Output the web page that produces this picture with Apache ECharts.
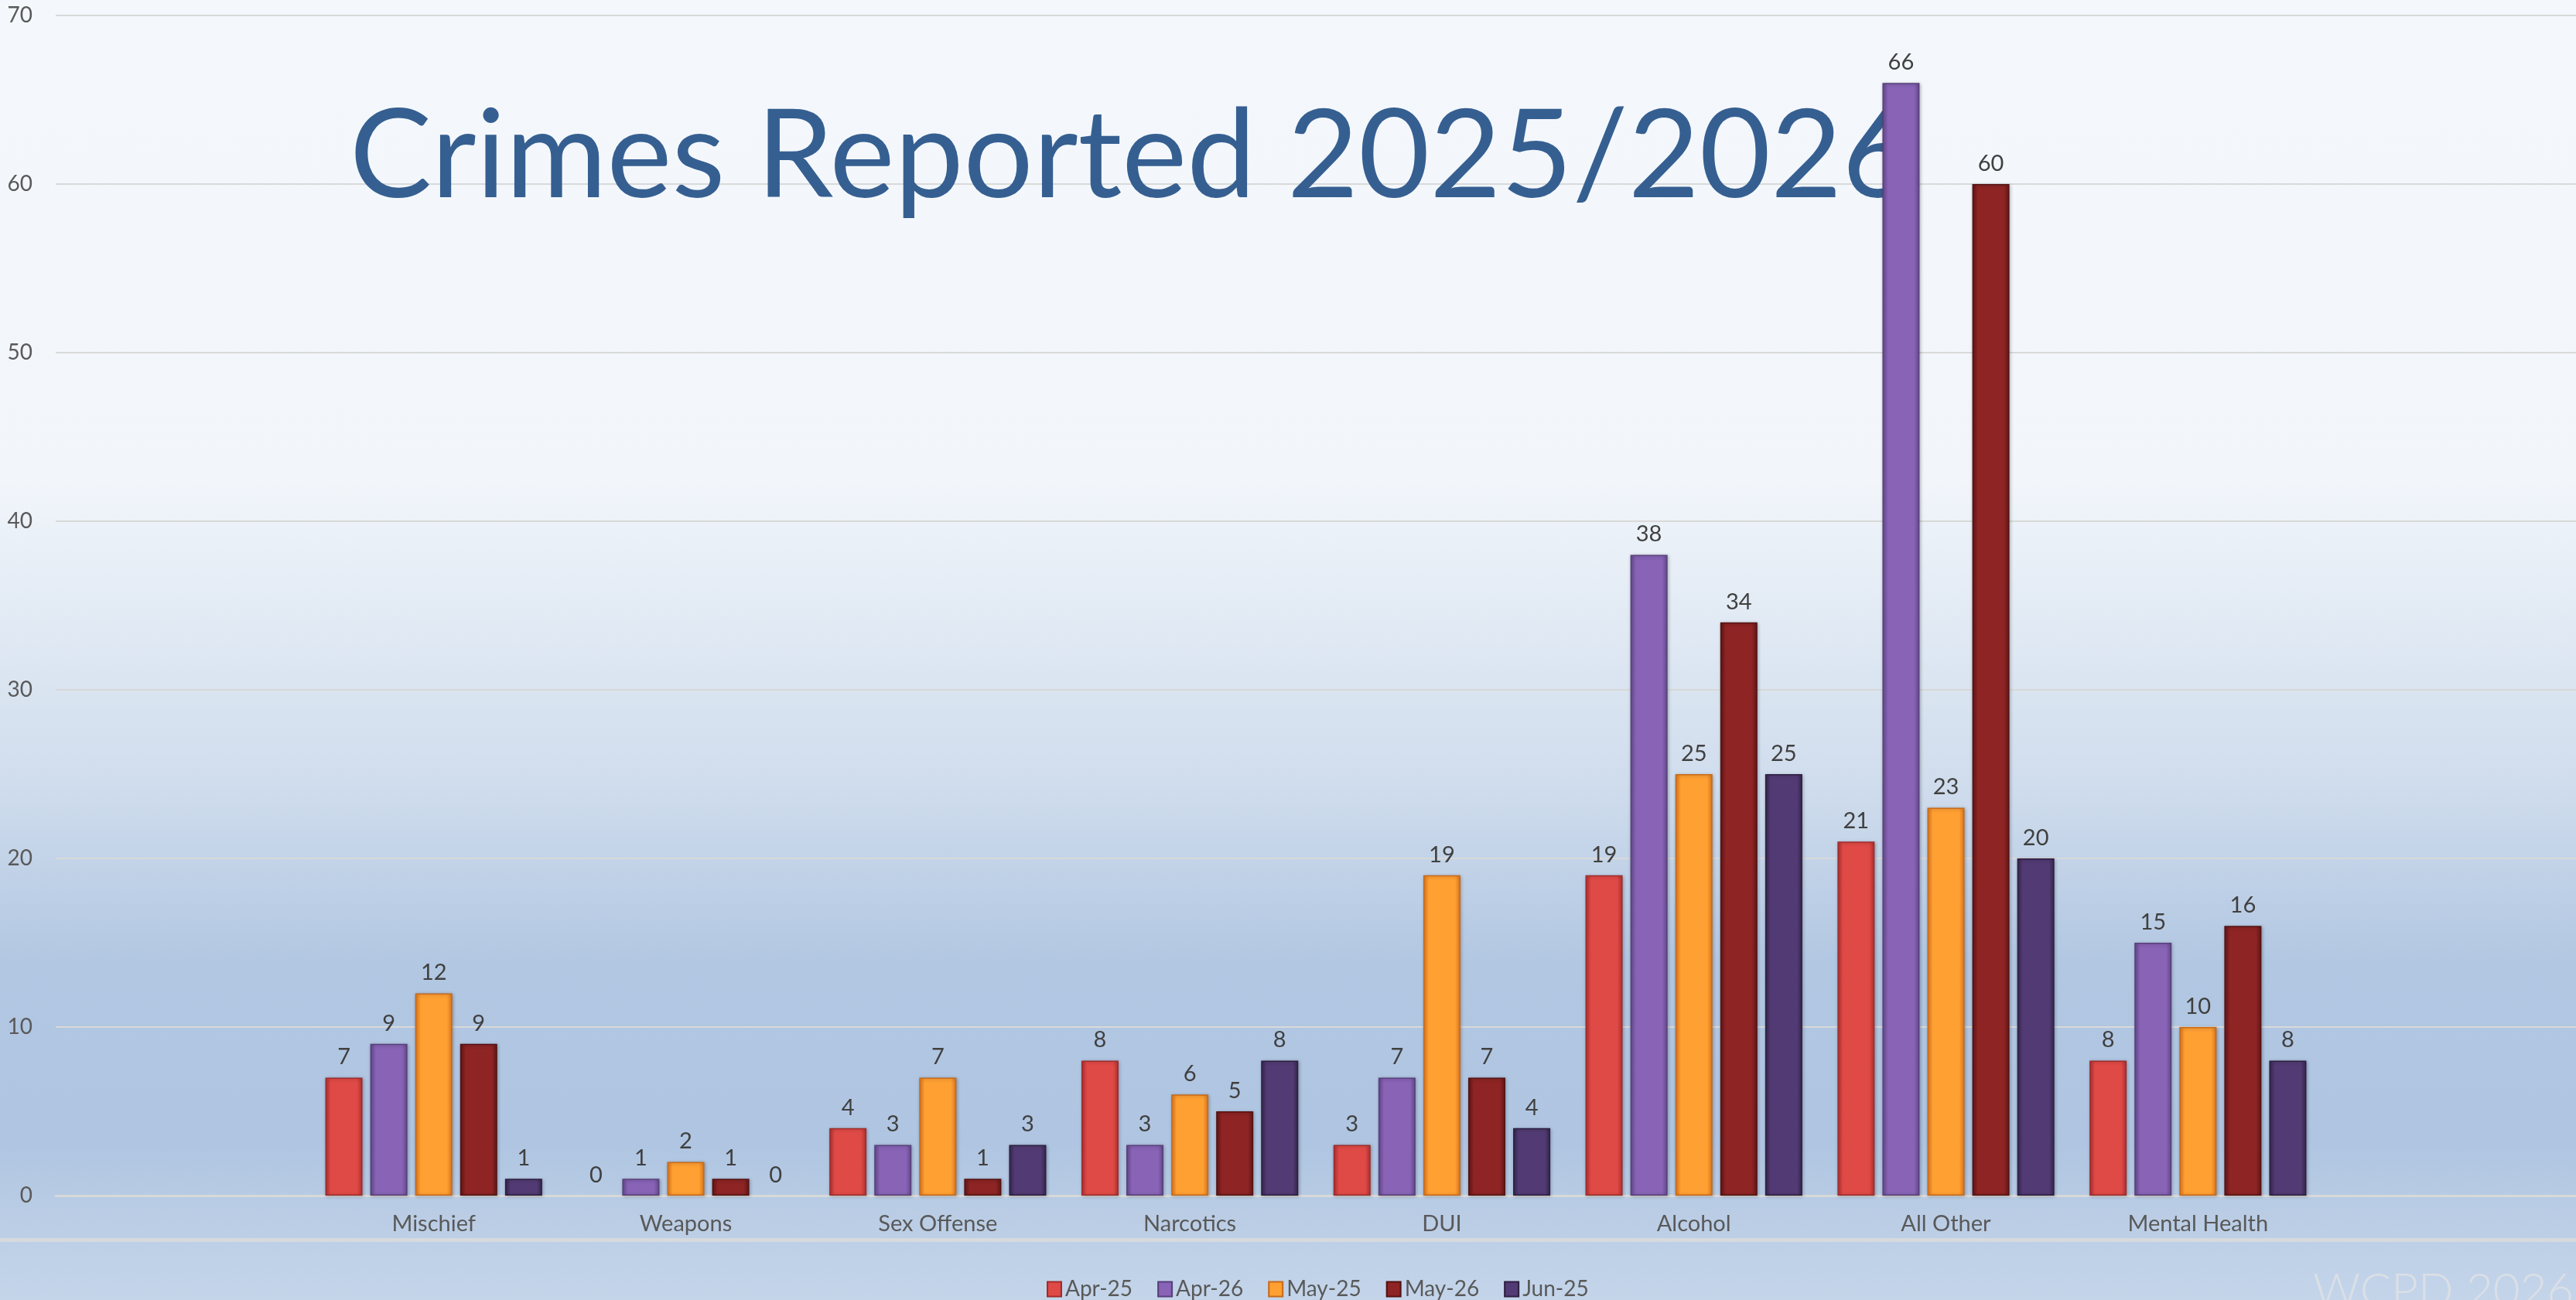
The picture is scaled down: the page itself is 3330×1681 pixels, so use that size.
<!DOCTYPE html>
<html>
<head>
<meta charset="utf-8">
<script src="https://cdn.jsdelivr.net/npm/echarts@6/dist/echarts.min.js"></script>
<style>
  html, body { margin: 0; padding: 0; }
  #chart { width: 3330px; height: 1681px; }
</style>
</head>
<body>
<div id="chart"></div>
<script>
// Crimes reported, by category and month
var categories = ['Mischief', 'Weapons', 'Sex Offense', 'Narcotics', 'DUI', 'Alcohol', 'All Other', 'Mental Health'];
var seriesNames = ['Apr-25', 'Apr-26', 'May-25', 'May-26', 'Jun-25'];
var apr25 = [7, 0, 4, 8, 3, 19, 21, 8];
var apr26 = [9, 1, 3, 3, 7, 38, 66, 15];
var may25 = [12, 2, 7, 6, 19, 25, 23, 10];
var may26 = [9, 1, 1, 5, 7, 34, 60, 16];
var jun25 = [1, 0, 3, 8, 4, 25, 20, 8];
var yTicks = [0, 10, 20, 30, 40, 50, 60, 70];

// top / edge / border colours for each series
var palette = [
	['#e04a46', '#b23131', '#9e2c2c'],
	['#8863b6', '#654a8e', '#58407c'],
	['#ffa033', '#e0781e', '#c86a1a'],
	['#8e2424', '#621616', '#541313'],
	['#523b74', '#38274f', '#2c1f40']
];

var font = 'Lato, "Open Sans", sans-serif';

function pad(arr) {
	// empty slot on each side of the category axis, like the original
	return ['-'].concat(arr, ['-']);
}

function barData(values) {
	// a zero bar has no visible outline in the original, only its label
	return pad(values).map(function(v) {
		if (v === 0) return { value: 0, itemStyle: { borderWidth: 0, shadowBlur: 0, color: 'rgba(0,0,0,0)' } };
		return v;
	});
}

function barSeries(name, values, cols) {
	return {
		name: name,
		type: 'bar',
		z: 2,
		barWidth: 48,
		barGap: '21%',
		data: barData(values),
		itemStyle: {
			color: new echarts.graphic.LinearGradient(0, 0, 1, 0, [
				{ offset: 0, color: cols[1] },
				{ offset: 0.15, color: cols[0] },
				{ offset: 0.85, color: cols[0] },
				{ offset: 1, color: cols[1] }
			]),
			borderColor: cols[2],
			borderWidth: 1.5,
			shadowColor: 'rgba(0,0,0,0.25)',
			shadowBlur: 4,
			shadowOffsetX: 1,
			shadowOffsetY: 1
		},
		label: {
			show: true,
			position: 'top',
			distance: 12,
			color: '#404040',
			fontFamily: font,
			fontSize: 29
		}
	};
}

var chart = echarts.init(document.getElementById('chart'));

chart.setOption({
	animation: false,
	backgroundColor: new echarts.graphic.LinearGradient(0, 0, 0, 1, [
		{ offset: 0, color: '#f4f8fc' },
		{ offset: 0.37, color: '#f2f6fb' },
		{ offset: 0.41, color: '#ebf1f8' },
		{ offset: 0.6, color: '#d0dded' },
		{ offset: 0.74, color: '#b2c7e2' },
		{ offset: 0.88, color: '#afc5e1' },
		{ offset: 0.95, color: '#bdcfe6' },
		{ offset: 1, color: '#c4d5ea' }
	]),
	grid: { left: 72, right: -7, top: 20, bottom: 135, containLabel: false },
	legend: {
		data: seriesNames,
		left: 1348,
		top: 1648,
		itemWidth: 18,
		itemHeight: 19,
		itemGap: 32,
		icon: 'rect',
		textStyle: { color: '#595959', fontFamily: font, fontSize: 28 }
	},
	xAxis: {
		type: 'category',
		data: pad(categories).map(function(c) { return c === '-' ? '' : c; }),
		axisLine: { show: true, lineStyle: { color: '#d9d9d9', width: 3 } },
		axisTick: { show: false },
		axisLabel: { color: '#595959', fontFamily: font, fontSize: 29, margin: 22, interval: 0 }
	},
	yAxis: {
		type: 'value',
		min: yTicks[0],
		max: yTicks[yTicks.length - 1],
		interval: 10,
		axisLine: { show: false },
		axisTick: { show: false },
		splitLine: { lineStyle: { color: '#d9d9d9', width: 2 } },
		axisLabel: { color: '#595959', fontFamily: font, fontSize: 28, margin: 30 }
	},
	graphic: [
		{
			type: 'text',
			z: 1,
			left: 452,
			top: 124,
			style: {
				text: 'Crimes Reported 2025/2026',
				fill: '#365f91',
				font: '159px ' + font
			}
		},
		{
			type: 'rect',
			z: 0,
			shape: { x: 0, y: 1601, width: 3330, height: 5 },
			style: { fill: '#d6d9de' }
		},
		{
			type: 'text',
			z: 0,
			left: 2990,
			top: 1640,
			style: {
				text: 'WCPD 2026',
				fill: 'rgba(222,224,230,0.9)',
				font: '300 60px ' + font
			}
		}
	],
	series: [
		barSeries(seriesNames[0], apr25, palette[0]),
		barSeries(seriesNames[1], apr26, palette[1]),
		barSeries(seriesNames[2], may25, palette[2]),
		barSeries(seriesNames[3], may26, palette[3]),
		barSeries(seriesNames[4], jun25, palette[4])
	]
});
</script>
</body>
</html>
